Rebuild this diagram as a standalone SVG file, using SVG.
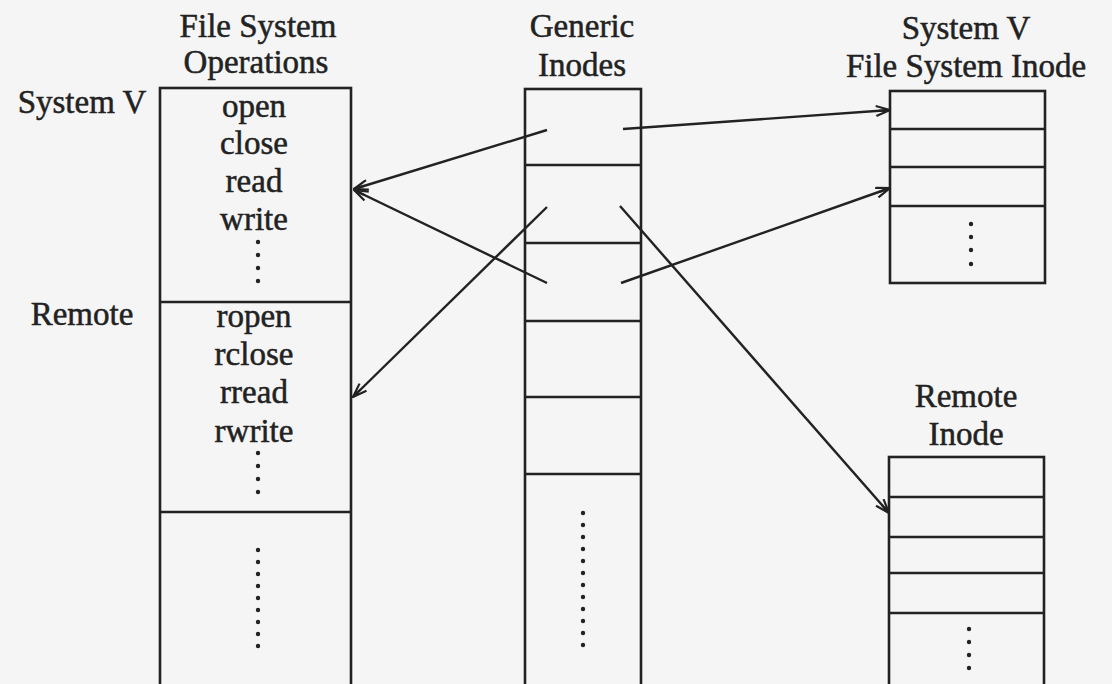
<svg xmlns="http://www.w3.org/2000/svg" width="1112" height="684" viewBox="0 0 1112 684">
<style>
text{font-family:"Liberation Serif","Times New Roman",serif;font-size:33px;fill:#222;stroke:#222;stroke-width:0.5;text-anchor:middle}
.box{fill:none;stroke:#222;stroke-width:2.6}
.div{stroke:#222;stroke-width:2.6}
.dot{fill:#222}
.conn{stroke:#222;stroke-width:2.4;fill:none;marker-end:url(#arr)}
</style>
<defs>
<marker id="arr" viewBox="0 0 16 12" refX="15" refY="6" markerWidth="16" markerHeight="12" markerUnits="userSpaceOnUse" orient="auto">
<path d="M1,1 L15,6 L1,11 M15,6 L4,6" fill="none" stroke="#222" stroke-width="2.2"/>
</marker>
</defs>
<rect width="1112" height="684" fill="#f5f5f5"/>

<g id="fs-ops">
<text x="258" y="37">File System</text>
<text x="256" y="73">Operations</text>
<text x="82" y="113">System V</text>
<text x="82" y="325">Remote</text>
<rect class="box" x="160" y="88" width="191" height="610"/>
<line class="div" x1="160" y1="302" x2="351" y2="302"/>
<line class="div" x1="160" y1="512" x2="351" y2="512"/>
<text x="254" y="117">open</text>
<text x="254" y="154">close</text>
<text x="254" y="192">read</text>
<text x="254" y="230">write</text>
<g class="dot"><circle cx="258" cy="242" r="2.2"/><circle cx="258" cy="255" r="2.2"/><circle cx="258" cy="268" r="2.2"/><circle cx="258" cy="281" r="2.2"/></g>
<text x="254" y="327">ropen</text>
<text x="254" y="365">rclose</text>
<text x="254" y="403">rread</text>
<text x="254" y="442">rwrite</text>
<g class="dot"><circle cx="258" cy="453" r="2.2"/><circle cx="258" cy="466" r="2.2"/><circle cx="258" cy="479" r="2.2"/><circle cx="258" cy="492" r="2.2"/></g>
<g class="dot"><circle cx="258" cy="550" r="2.2"/><circle cx="258" cy="562" r="2.2"/><circle cx="258" cy="574" r="2.2"/><circle cx="258" cy="586" r="2.2"/><circle cx="258" cy="598" r="2.2"/><circle cx="258" cy="610" r="2.2"/><circle cx="258" cy="622" r="2.2"/><circle cx="258" cy="634" r="2.2"/><circle cx="258" cy="646" r="2.2"/></g>
</g>

<g id="generic-inodes">
<text x="582" y="37">Generic</text>
<text x="582" y="76">Inodes</text>
<rect class="box" x="525" y="89" width="116" height="610"/>
<line class="div" x1="525" y1="165" x2="641" y2="165"/>
<line class="div" x1="525" y1="243" x2="641" y2="243"/>
<line class="div" x1="525" y1="321" x2="641" y2="321"/>
<line class="div" x1="525" y1="397" x2="641" y2="397"/>
<line class="div" x1="525" y1="474" x2="641" y2="474"/>
<g class="dot"><circle cx="583" cy="513" r="2.2"/><circle cx="583" cy="525" r="2.2"/><circle cx="583" cy="537" r="2.2"/><circle cx="583" cy="549" r="2.2"/><circle cx="583" cy="561" r="2.2"/><circle cx="583" cy="573" r="2.2"/><circle cx="583" cy="585" r="2.2"/><circle cx="583" cy="597" r="2.2"/><circle cx="583" cy="609" r="2.2"/><circle cx="583" cy="621" r="2.2"/><circle cx="583" cy="633" r="2.2"/><circle cx="583" cy="645" r="2.2"/></g>
</g>

<g id="sysv-inode">
<text x="966" y="39">System V</text>
<text x="966" y="77">File System Inode</text>
<rect class="box" x="890" y="91" width="155" height="192"/>
<line class="div" x1="890" y1="129" x2="1045" y2="129"/>
<line class="div" x1="890" y1="167" x2="1045" y2="167"/>
<line class="div" x1="890" y1="206" x2="1045" y2="206"/>
<g class="dot"><circle cx="971" cy="224" r="2.2"/><circle cx="971" cy="237" r="2.2"/><circle cx="971" cy="250" r="2.2"/><circle cx="971" cy="264" r="2.2"/></g>
</g>

<g id="remote-inode">
<text x="966" y="407">Remote</text>
<text x="966" y="445">Inode</text>
<rect class="box" x="889" y="457" width="155" height="240"/>
<line class="div" x1="889" y1="497" x2="1044" y2="497"/>
<line class="div" x1="889" y1="537" x2="1044" y2="537"/>
<line class="div" x1="889" y1="573" x2="1044" y2="573"/>
<line class="div" x1="889" y1="613" x2="1044" y2="613"/>
<g class="dot"><circle cx="969" cy="629" r="2.2"/><circle cx="969" cy="642" r="2.2"/><circle cx="969" cy="655" r="2.2"/><circle cx="969" cy="668" r="2.2"/></g>
</g>

<g id="connectors">
<line class="conn" x1="547" y1="130" x2="354" y2="189"/>
<line class="conn" x1="547" y1="283" x2="354" y2="190"/>
<line class="conn" x1="547" y1="207" x2="353" y2="397"/>
<line class="conn" x1="623" y1="129" x2="890" y2="110"/>
<line class="conn" x1="621" y1="283" x2="890" y2="188"/>
<line class="conn" x1="620" y1="206" x2="889" y2="513"/>
</g>
</svg>
